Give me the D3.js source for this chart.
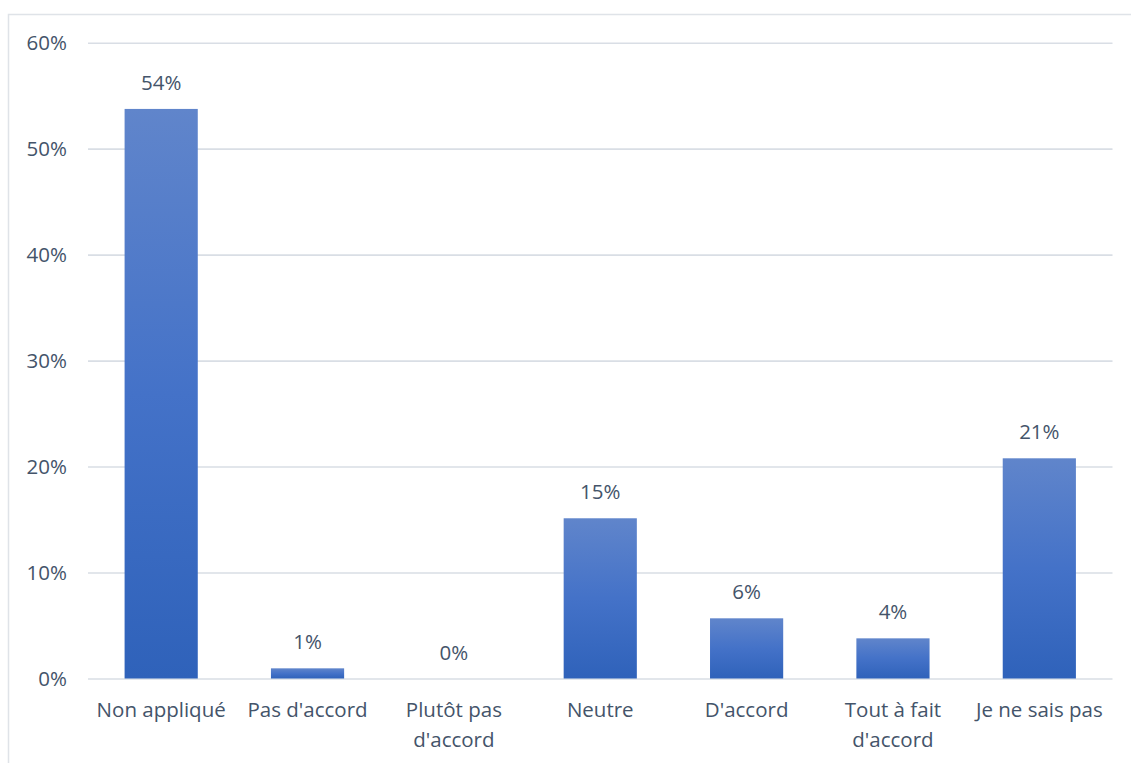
<!DOCTYPE html>
<html>
<head>
<meta charset="utf-8">
<script src="https://cdn.jsdelivr.net/npm/d3@7"></script>
<style>
  html, body { margin: 0; padding: 0; background: #ffffff; }
  svg { display: block; }
  text { font-family: "Open Sans", "Noto Sans", sans-serif; fill: #44546a; }
</style>
</head>
<body>
<svg id="chart" width="1131" height="763"></svg>
<script>
// Survey answers and their shares (percent)
const categories = [
  ["Non appliqué"],
  ["Pas d'accord"],
  ["Plutôt pas", "d'accord"],
  ["Neutre"],
  ["D'accord"],
  ["Tout à fait", "d'accord"],
  ["Je ne sais pas"]
];
const values = [53.75, 0.96, 0, 15.12, 5.68, 3.79, 20.78];
const labels = ["54%", "1%", "0%", "15%", "6%", "4%", "21%"];
const yTicks = [0, 10, 20, 30, 40, 50, 60];

const width = 1131, height = 763;
const margin = { left: 88, right: 18, top: 43, bottom: 84 };
const fontSize = "20.5px";
const svg = d3.select("#chart");

// Outer frame of the chart area
svg.append("rect")
  .attr("x", 8.5).attr("y", 14.5)
  .attr("width", 1140).attr("height", 780)
  .attr("fill", "none")
  .attr("stroke", "#dfe3e8")
  .attr("stroke-width", 1.5);

const x = d3.scaleBand()
  .domain(d3.range(categories.length))
  .range([margin.left, width - margin.right - 0.5])
  .paddingInner(0.5)
  .paddingOuter(0.25);

const y = d3.scaleLinear()
  .domain([0, 60])
  .range([678.5, 42.7]);

// Vertical gradient used by every bar
const defs = svg.append("defs");
const grad = defs.append("linearGradient")
  .attr("id", "barGrad")
  .attr("x1", 0).attr("y1", 0).attr("x2", 0).attr("y2", 1);
grad.append("stop").attr("offset", "0%").attr("stop-color", "#6085cb");
grad.append("stop").attr("offset", "50%").attr("stop-color", "#4472c8");
grad.append("stop").attr("offset", "100%").attr("stop-color", "#2f62ba");

// Horizontal gridlines
const yAxis = d3.axisLeft(y)
  .tickValues(yTicks)
  .tickSize(-(x.range()[1] - x.range()[0]))
  .tickFormat(d => d + "%");

const gy = svg.append("g")
  .attr("transform", `translate(${x.range()[0]},0)`)
  .call(yAxis);
gy.select(".domain").remove();
gy.selectAll(".tick line")
  .attr("stroke", "#d9dee5")
  .attr("stroke-width", 1.6);
gy.selectAll(".tick text")
  .attr("x", -21)
  .attr("dy", "0.35em")
  .style("font-size", fontSize)
  .attr("fill", "#44546a");

// Bars
svg.append("g").selectAll("rect")
  .data(values)
  .join("rect")
  .attr("x", (d, i) => x(i))
  .attr("width", x.bandwidth())
  .attr("y", d => y(d))
  .attr("height", d => y(0) - y(d))
  .attr("fill", "url(#barGrad)");

// Value labels above bars
svg.append("g").selectAll("text")
  .data(values)
  .join("text")
  .attr("x", (d, i) => x(i) + x.bandwidth() / 2)
  .attr("y", d => y(d) - 19)
  .attr("text-anchor", "middle")
  .style("font-size", fontSize)
  .text((d, i) => labels[i]);

// Category labels (wrapped onto two lines where needed)
const cat = svg.append("g").selectAll("text")
  .data(categories)
  .join("text")
  .attr("x", (d, i) => x(i) + x.bandwidth() / 2)
  .attr("y", 717)
  .attr("text-anchor", "middle")
  .style("font-size", fontSize);
cat.selectAll("tspan")
  .data(d => d)
  .join("tspan")
  .attr("x", function () { return this.parentNode.getAttribute("x"); })
  .attr("dy", (d, j) => j === 0 ? 0 : 29.5)
  .text(d => d);
</script>
</body>
</html>
